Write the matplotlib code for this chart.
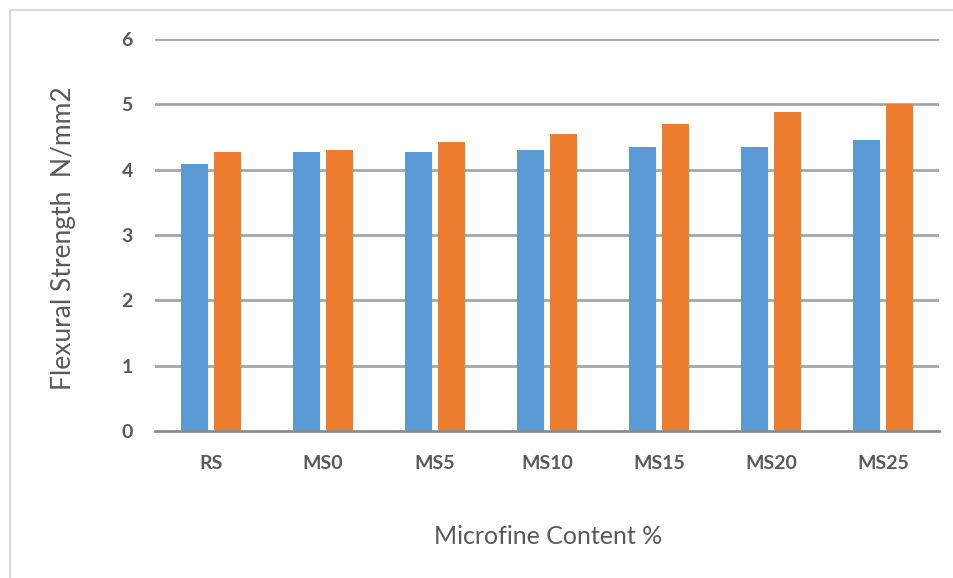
import matplotlib
matplotlib.use('Agg')
import matplotlib.pyplot as plt
import numpy as np
from matplotlib.patches import Rectangle

# data
categories = ['RS', 'MS0', 'MS5', 'MS10', 'MS15', 'MS20', 'MS25']
series_1 = [4.09, 4.27, 4.27, 4.30, 4.34, 4.34, 4.45]
series_2 = [4.27, 4.30, 4.42, 4.55, 4.70, 4.89, 5.00]
y_ticks = [0, 1, 2, 3, 4, 5, 6]

plt.rcParams['font.family'] = ['Lato', 'DejaVu Sans']
text_color = '#595959'

fig = plt.figure(figsize=(9.54, 5.78), dpi=100)
ax = fig.add_axes([155/954, 1 - 431/578, (939 - 155)/954, (431 - 39)/578])

x = np.arange(len(categories))
w = 0.24
gap = 0.055
ax.bar(x - (w + gap)/2, series_1, width=w, color='#5b9bd5', zorder=3)
ax.bar(x + (w + gap)/2, series_2, width=w, color='#ed7d31', zorder=3)

ax.set_xlim(-0.5, len(categories) - 0.5)
ax.set_ylim(0, 6)
ax.set_yticks(y_ticks)
ax.set_xticks(x)
ax.set_xticklabels(categories)

for t in y_ticks[1:]:
    ax.axhline(t, color='#a6a6a6', lw=2, zorder=1)

for s in ['top', 'right', 'left']:
    ax.spines[s].set_visible(False)
ax.spines['bottom'].set_color('#8c8c8c')
ax.spines['bottom'].set_linewidth(2)
ax.spines['bottom'].set_zorder(4)

ax.tick_params(axis='both', length=0, colors=text_color, labelsize=14)
ax.tick_params(axis='x', pad=17)
ax.tick_params(axis='y', pad=16)
for lab in ax.get_xticklabels() + ax.get_yticklabels():
    lab.set_fontweight('bold')

# axis titles placed at the reference positions
fig.text(548/954, 1 - 537/578, 'Microfine Content %', fontsize=18,
         color=text_color, ha='center', va='center')
fig.text(64/954, 1 - 238/578, 'Flexural Strength  N/mm2', fontsize=19,
         color=text_color, ha='center', va='center', rotation=90)

# light frame around the chart area
fig.patches.append(Rectangle((10/954, -0.05), 1.1, 1 - 10/578 + 0.05,
                             transform=fig.transFigure, fill=False,
                             edgecolor='#d9d9d9', lw=1.5))

fig.savefig('out.png', dpi=100)
plt.close(fig)
